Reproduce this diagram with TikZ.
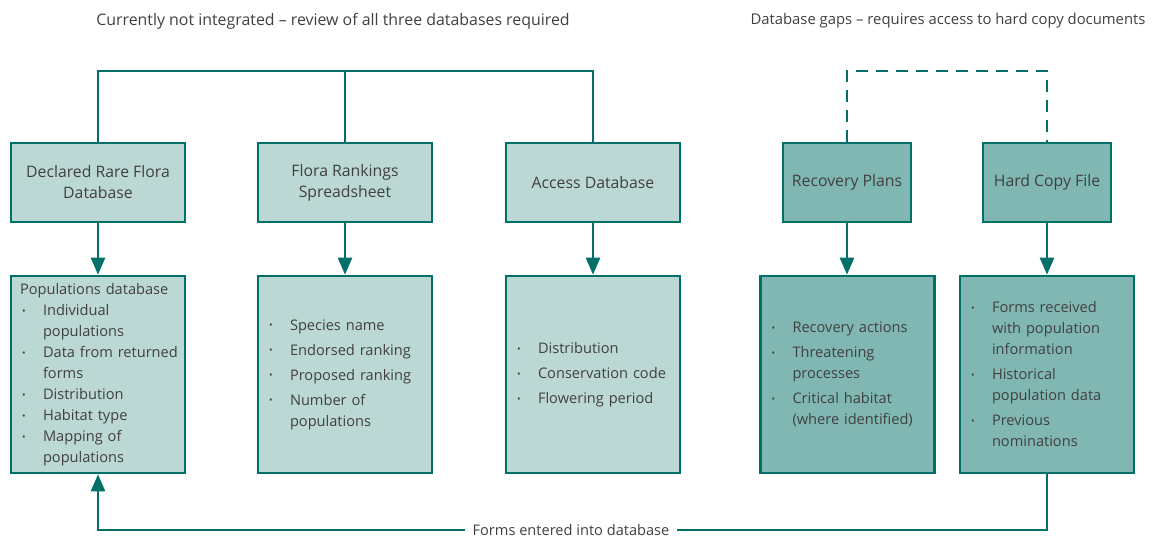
\documentclass[tikz,border=0pt]{standalone}
\usepackage{fontspec}
\setmainfont{Open Sans}
\usetikzlibrary{arrows.meta}
\definecolor{teal1}{RGB}{0,112,104}
\definecolor{lightfill}{RGB}{188,216,213}
\definecolor{darkfill}{RGB}{128,183,179}
\definecolor{txt}{RGB}{64,64,64}
\newcommand{\itm}[1]{\mbox{\hspace*{2pt}\makebox[21pt][l]{\raisebox{0.15ex}{\scalebox{0.65}{\textbullet}}}#1}}
\newcommand{\cnt}[1]{\mbox{\hspace*{23pt}#1}}
\begin{document}
\begin{tikzpicture}[x=1pt,y=-1pt,
  every node/.style={text=txt,font=\fontsize{14.6}{21}\selectfont},
  bigfont/.style={font=\fontsize{15.8}{21}\selectfont},
  topbox/.style={bigfont,draw=teal1,line width=2.6pt,fill=lightfill,minimum width=174pt,minimum height=79pt,align=center,inner sep=0pt},
  topdark/.style={topbox,fill=darkfill,minimum width=128pt},
  listbox/.style={draw=teal1,line width=2.6pt,fill=lightfill,minimum width=174pt,minimum height=197pt,text width=156pt,inner xsep=9pt,inner ysep=0pt,align=left},
  listdark/.style={listbox,fill=darkfill},
  conn/.style={draw=teal1,line width=2.4pt},
  arr/.style={conn,-{Triangle[length=17pt,width=14pt]}},
  dashconn/.style={conn,dash pattern=on 12pt off 8pt},
  lab/.style={fill=white,inner xsep=8pt,inner ysep=2pt}
]
\useasboundingbox (0,0) rectangle (1156,538);

% headings
\node[font=\fontsize{15.9}{21}\selectfont] (h1) at (333,21) {Currently not integrated -- review of all three databases required};
\node[font=\fontsize{14.85}{21}\selectfont] (h2) at (948,21) {Database gaps -- requires access to hard copy documents};

% top row
\node[topbox]  (A) at (98,182.5)   {Declared Rare Flora\\Database};
\node[topbox]  (B) at (345,182.5)  {Flora Rankings\\Spreadsheet};
\node[topbox]  (C) at (593,182.5)  {Access Database};
\node[topdark] (D) at (847,182.5)  {Recovery Plans};
\node[topdark] (E) at (1047,182.5) {Hard Copy File};

% bottom row
\node[listbox] (A2) at (98,374.5) {\mbox{Populations database}\\
\itm{Individual}\\ \cnt{populations}\\
\itm{Data from returned}\\ \cnt{forms}\\
\itm{Distribution}\\
\itm{Habitat type}\\
\itm{Mapping of}\\ \cnt{populations}};
\node[listbox] (B2) at (345,374.5) {\itm{Species name}\\[4pt]
\itm{Endorsed ranking}\\[4pt]
\itm{Proposed ranking}\\[4pt]
\itm{Number of}\\ \cnt{populations}};
\node[listbox] (C2) at (593,374.5) {\itm{Distribution}\\[4pt]
\itm{Conservation code}\\[4pt]
\itm{Flowering period}};
\node[listdark] (D2) at (847.5,374.5) {\itm{Recovery actions}\\[4pt]
\itm{Threatening}\\ \cnt{processes}\\[4pt]
\itm{Critical habitat}\\ \cnt{(where identified)}};
\node[listdark] (E2) at (1047,374.5) {\itm{Forms received}\\ \cnt{with population}\\ \cnt{information}\\[4pt]
\itm{Historical}\\ \cnt{population data}\\[4pt]
\itm{Previous}\\ \cnt{nominations}};

% top connectors
\coordinate (tbar) at (345,71);
\coordinate (dbar) at (947,71);
\draw[conn] (A.north) |- (tbar) -| (C.north);
\draw[conn] (B.north) -- (tbar);
\draw[dashconn] (D.north) |- (dbar) -| (E.north);

% down arrows
\draw[arr] (A.south) -- (A2.north);
\draw[arr] (B.south) -- (B2.north);
\draw[arr] (C.south) -- (C2.north);
\draw[arr] (D.south) -- (D2.north -| D.south);
\draw[arr] (E.south) -- (E2.north);

% feedback
\coordinate (fb) at (571,530);
\draw[arr] (E2.south) |- (fb) -| (A2.south);
\node[lab] (fbl) at (fb) {Forms entered into database};
\end{tikzpicture}
\end{document}
